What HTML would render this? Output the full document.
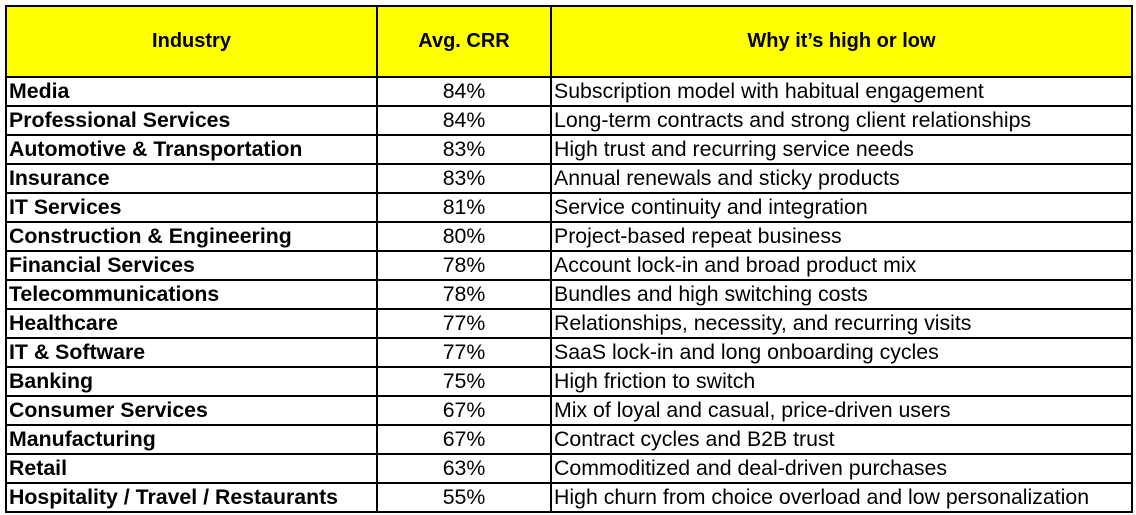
<!DOCTYPE html>
<html><head><meta charset="utf-8"><style>
body{margin:0;width:1136px;height:515px;background:#fff;overflow:hidden;font-family:"Liberation Sans",Arial,sans-serif;}
table{position:absolute;left:5px;top:5px;border-collapse:collapse;table-layout:fixed;}
td,th{border:2px solid #000;padding:0 2px;font-size:21.3px;height:27px;line-height:27px;white-space:nowrap;overflow:hidden;color:#000;}
th{background:#ffff00;height:69px;font-weight:bold;text-align:center;font-size:20px;}
td.i{font-weight:bold;}
td.v{text-align:center;}
</style></head><body>
<table>
<colgroup><col style="width:371px"><col style="width:174px"><col style="width:581px"></colgroup>
<thead><tr><th>Industry</th><th>Avg. CRR</th><th>Why it’s high or low</th></tr></thead>
<tbody>
<tr><td class="i">Media</td><td class="v">84%</td><td>Subscription model with habitual engagement</td></tr>
<tr><td class="i">Professional Services</td><td class="v">84%</td><td>Long-term contracts and strong client relationships</td></tr>
<tr><td class="i">Automotive &amp; Transportation</td><td class="v">83%</td><td>High trust and recurring service needs</td></tr>
<tr><td class="i">Insurance</td><td class="v">83%</td><td>Annual renewals and sticky products</td></tr>
<tr><td class="i">IT Services</td><td class="v">81%</td><td>Service continuity and integration</td></tr>
<tr><td class="i">Construction &amp; Engineering</td><td class="v">80%</td><td>Project-based repeat business</td></tr>
<tr><td class="i">Financial Services</td><td class="v">78%</td><td>Account lock-in and broad product mix</td></tr>
<tr><td class="i">Telecommunications</td><td class="v">78%</td><td>Bundles and high switching costs</td></tr>
<tr><td class="i">Healthcare</td><td class="v">77%</td><td>Relationships, necessity, and recurring visits</td></tr>
<tr><td class="i">IT &amp; Software</td><td class="v">77%</td><td>SaaS lock-in and long onboarding cycles</td></tr>
<tr><td class="i">Banking</td><td class="v">75%</td><td>High friction to switch</td></tr>
<tr><td class="i">Consumer Services</td><td class="v">67%</td><td>Mix of loyal and casual, price-driven users</td></tr>
<tr><td class="i">Manufacturing</td><td class="v">67%</td><td>Contract cycles and B2B trust</td></tr>
<tr><td class="i">Retail</td><td class="v">63%</td><td>Commoditized and deal-driven purchases</td></tr>
<tr><td class="i">Hospitality / Travel / Restaurants</td><td class="v">55%</td><td>High churn from choice overload and low personalization</td></tr>
</tbody></table>
</body></html>
